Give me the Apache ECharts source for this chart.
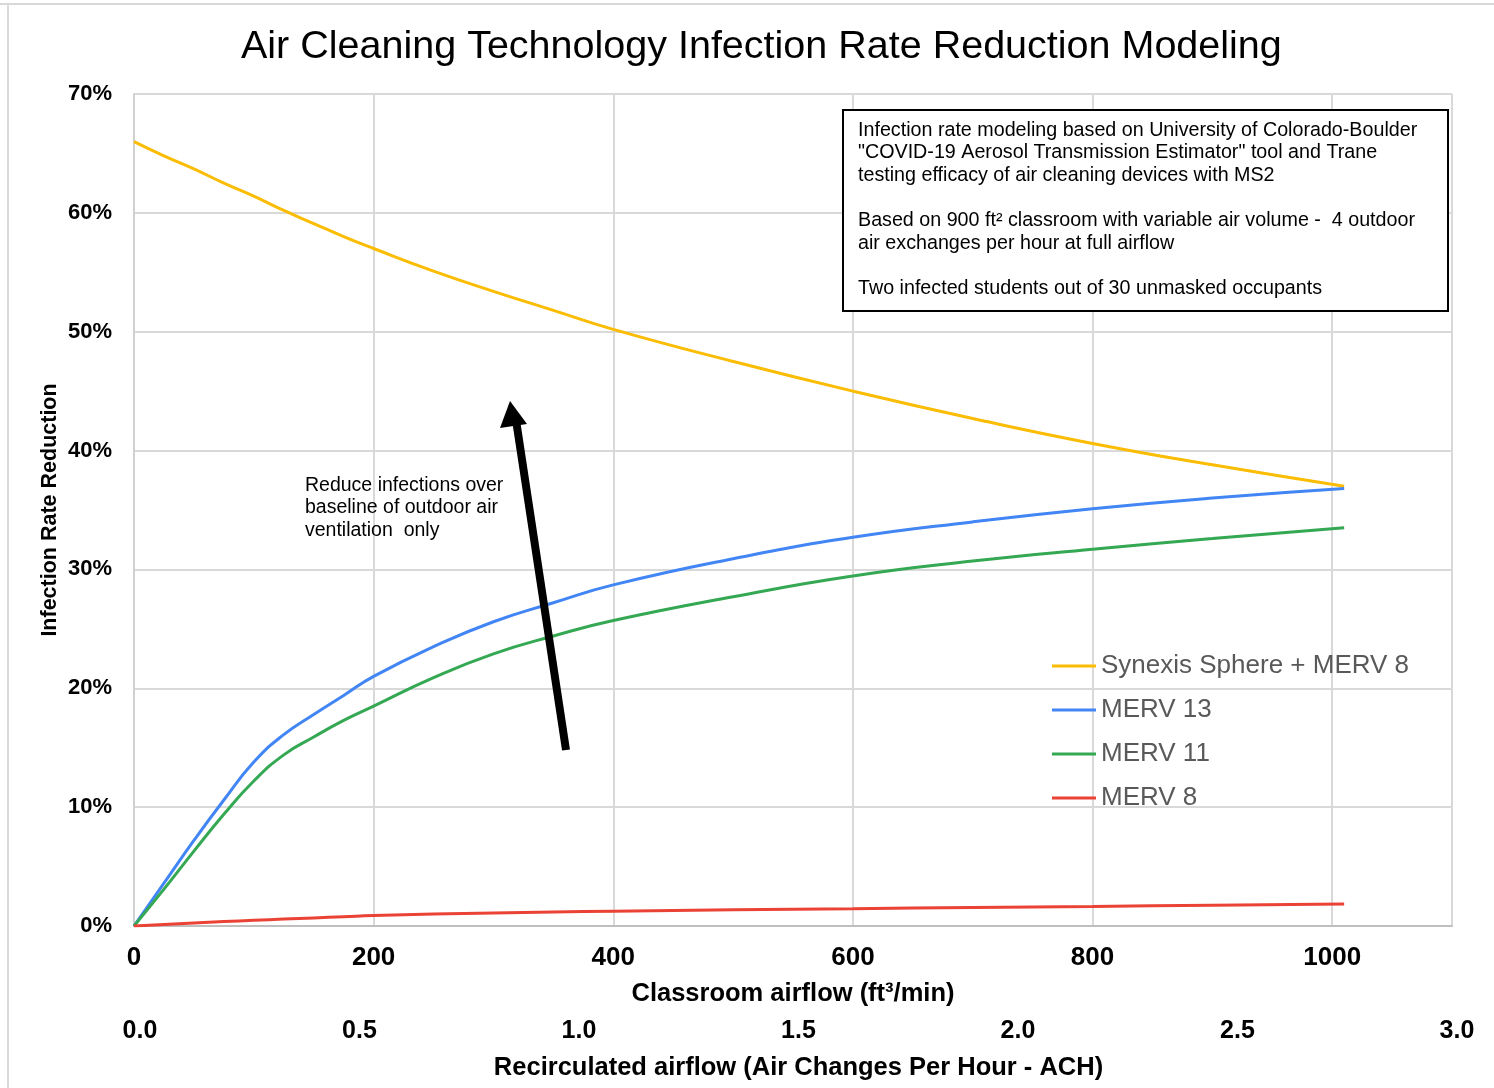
<!DOCTYPE html>
<html>
<head>
<meta charset="utf-8">
<script src="https://cdn.jsdelivr.net/npm/echarts@6/dist/echarts.min.js"></script>
<style>
  html,body{margin:0;padding:0;background:#fff;}
  #chart{width:1494px;height:1088px;}
</style>
</head>
<body>
<div id="chart"></div>
<script>
// data
const airflow = [0, 25, 50, 75, 100, 125, 150, 175, 200, 250, 300, 350, 400, 500, 600, 700, 800, 900, 1010];
const synexis = [66.0, 64.8, 63.7, 62.5, 61.4, 60.2, 59.1, 58.0, 57.0, 55.1, 53.4, 51.8, 50.2, 47.5, 45.0, 42.7, 40.6, 38.8, 37.0];
const merv13  = [0, 3.6, 7.2, 10.6, 13.8, 16.1, 17.8, 19.4, 21.0, 23.5, 25.6, 27.2, 28.7, 30.9, 32.7, 34.0, 35.1, 36.0, 36.8];
const merv11  = [0, 3.1, 6.3, 9.4, 12.2, 14.4, 15.9, 17.3, 18.5, 20.9, 22.9, 24.4, 25.7, 27.7, 29.45, 30.7, 31.7, 32.6, 33.5];
const merv8   = [0, 0.13, 0.25, 0.37, 0.48, 0.58, 0.68, 0.78, 0.88, 1.0, 1.1, 1.18, 1.25, 1.36, 1.46, 1.56, 1.65, 1.75, 1.85];
const seriesNames = ["Synexis Sphere + MERV 8", "MERV 13", "MERV 11", "MERV 8"];
const seriesColors = ["#FBBC04", "#4285F4", "#34A853", "#EA4335"];
const achMin = 0, achMax = 3.0, achStep = 0.5;

const noteLines = [
  "Infection rate modeling based on University of Colorado-Boulder",
  "\"COVID-19 Aerosol Transmission Estimator\" tool and Trane",
  "testing efficacy of air cleaning devices with MS2",
  "",
  "Based on 900 ft² classroom with variable air volume -  4 outdoor",
  "air exchanges per hour at full airflow",
  "",
  "Two infected students out of 30 unmasked occupants"
];
const arrowNote = "Reduce infections over\nbaseline of outdoor air\nventilation  only";

const FONT = "'Liberation Sans', Arial, sans-serif";
const chart = echarts.init(document.getElementById("chart"));

const pair = (ys) => airflow.map((x, i) => [x, ys[i]]);
const mk = (name, ys, i) => ({
  name, type: "line", data: pair(ys), smooth: 0.5,
  showSymbol: false, symbol: "none",
  lineStyle: { width: 3, color: seriesColors[i] }, itemStyle: { color: seriesColors[i] }
});

chart.setOption({
  animation: false,
  backgroundColor: "#fff",
  title: {
    text: "Air Cleaning Technology Infection Rate Reduction Modeling",
    left: 236, top: 22,
    textStyle: { fontFamily: FONT, fontSize: 39.5, fontWeight: "normal", color: "#000" }
  },
  legend: {
    orient: "vertical", left: 1047, top: 647,
    icon: "rect", itemWidth: 44, itemHeight: 3, itemGap: 16,
    data: seriesNames,
    textStyle: { fontFamily: FONT, fontSize: 26, color: "#595959", lineHeight: 28 }
  },
  grid: [
    { left: 134, right: 42, top: 94, bottom: 162 },
    { left: 140, right: 37, top: 1008, height: 2 }
  ],
  xAxis: [
    {
      type: "value", gridIndex: 0, min: 0, max: 1100, interval: 200,
      name: "Classroom airflow (ft³/min)", nameLocation: "middle", nameGap: 55,
      nameTextStyle: { fontFamily: FONT, fontSize: 25.5, fontWeight: "bold", color: "#000" },
      axisLine: { lineStyle: { color: "#bfbfbf", width: 2 } },
      axisTick: { show: false },
      axisLabel: { showMaxLabel: false, margin: 19, fontFamily: FONT, fontSize: 26, fontWeight: "bold", color: "#000",
        formatter: (v) => String(v) },
      splitLine: { lineStyle: { color: "#d9d9d9", width: 2 } }
    },
    {
      type: "value", gridIndex: 1, min: achMin, max: achMax, interval: achStep,
      name: "Recirculated airflow (Air Changes Per Hour - ACH)", nameLocation: "middle", nameGap: 45,
      nameTextStyle: { fontFamily: FONT, fontSize: 25.5, fontWeight: "bold", color: "#000" },
      axisLine: { show: false }, axisTick: { show: false }, splitLine: { show: false },
      axisLabel: { margin: 9, fontFamily: FONT, fontSize: 25, fontWeight: "bold", color: "#000",
        formatter: (v) => v.toFixed(1) }
    }
  ],
  yAxis: [
    {
      type: "value", gridIndex: 0, min: 0, max: 70, interval: 10,
      name: "Infection Rate Reduction", nameLocation: "middle", nameGap: 73, nameMoveOverlap: false,
      nameTextStyle: { fontFamily: FONT, fontSize: 21.5, fontWeight: "bold", color: "#000" },
      axisLine: { show: true, lineStyle: { color: "#d0d0d0", width: 2 } },
      axisTick: { show: false },
      axisLabel: { margin: 22, fontFamily: FONT, fontSize: 22, fontWeight: "bold", color: "#000",
        formatter: (v) => v + "%" },
      splitLine: { lineStyle: { color: "#d9d9d9", width: 2 } }
    },
    { type: "value", gridIndex: 1, show: false, min: 0, max: 1 }
  ],
  series: [
    mk(seriesNames[0], synexis, 0),
    mk(seriesNames[1], merv13, 1),
    mk(seriesNames[2], merv11, 2),
    mk(seriesNames[3], merv8, 3)
  ],
  graphic: [
    // page frame
    { type: "line", shape: { x1: 0, y1: 4, x2: 1494, y2: 4 }, style: { stroke: "#d9d9d9", lineWidth: 2 } },
    { type: "line", shape: { x1: 8, y1: 4, x2: 8, y2: 1088 }, style: { stroke: "#d9d9d9", lineWidth: 2 } },
    // note box
    { type: "rect", shape: { x: 843, y: 110, width: 605, height: 201 },
      style: { fill: "#fff", stroke: "#000", lineWidth: 2 }, z: 10 },
    { type: "text", left: 858, top: 119, z: 11,
      style: { text: noteLines.join("\n"), fontFamily: FONT, fontSize: 19.7, lineHeight: 22.6, fill: "#000" } },
    // arrow
    { type: "line", shape: { x1: 566, y1: 750, x2: 516, y2: 420 }, z: 10,
      style: { stroke: "#000", lineWidth: 8 } },
    { type: "polygon", shape: { points: [[510, 401], [500, 428], [527, 424]] }, z: 10,
      style: { fill: "#000" } },
    { type: "text", left: 305, top: 474, z: 10,
      style: { text: arrowNote, fontFamily: FONT, fontSize: 19.5, lineHeight: 22.5, fill: "#000" } }
  ]
});
</script>
</body>
</html>
